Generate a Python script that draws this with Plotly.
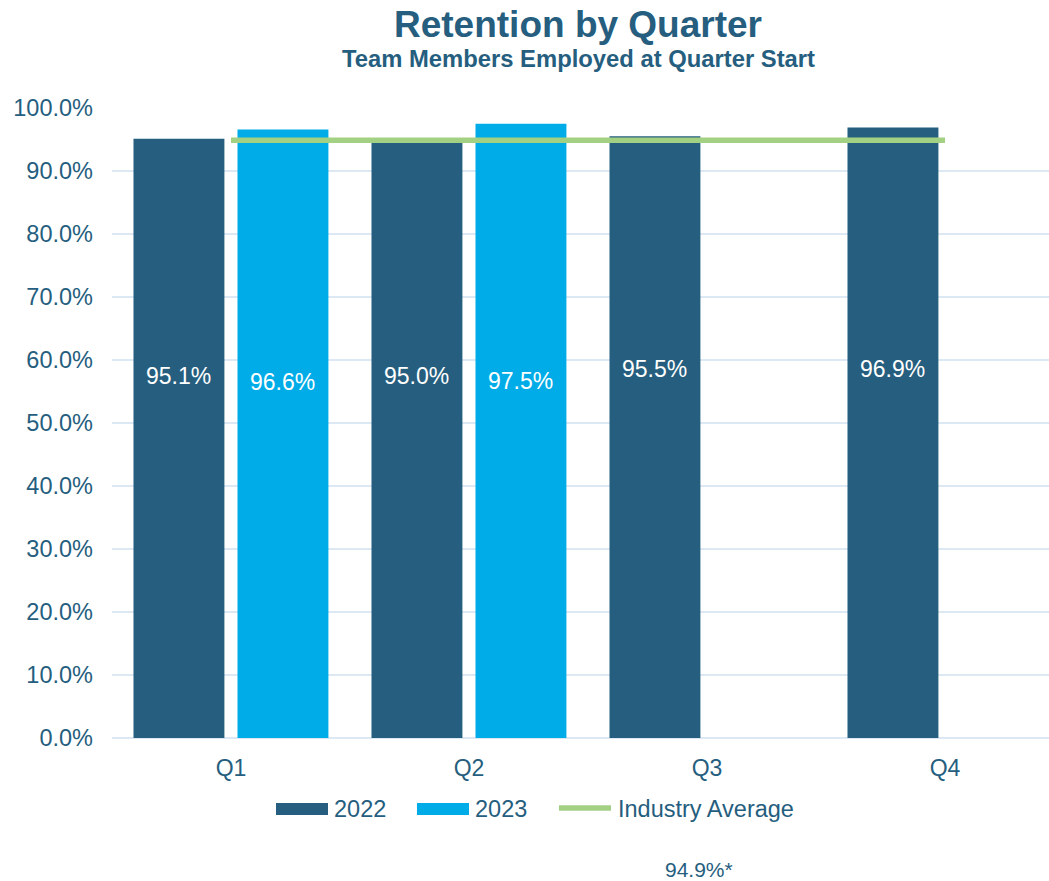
import plotly.graph_objects as go

# Retention data
quarters = ["Q1", "Q2", "Q3", "Q4"]
retention_2022 = [95.1, 95.0, 95.5, 96.9]
retention_2023 = [96.6, 97.5, None, None]
industry_average = 94.9
tick_values = [0, 10, 20, 30, 40, 50, 60, 70, 80, 90, 100]

# Styling
C_2022 = "#255E7E"
C_2023 = "#00ACE7"
C_AVG = "#A3D184"
C_TEXT = "#255E7E"
C_GRID = "#DCE8F4"
FONT = "Liberation Sans, Arial, sans-serif"

W, H = 1049, 881
M_L, M_R, M_T, M_B = 112, 0, 108, 143

# Bar geometry in category units
BAR_W = 0.382
OFF_2022 = -0.4097
OFF_2023 = 0.0273

# Heights (in % units) where the white value labels sit inside the bars
label_y_2022 = [57.5, 57.4, 58.6, 58.6]
label_y_2023 = [56.5, 56.7]

fig = go.Figure()

fig.add_trace(go.Bar(
    x=quarters, y=retention_2022, name="2022",
    width=BAR_W, offset=OFF_2022,
    marker=dict(color=C_2022, line=dict(width=0)),
    showlegend=False,
))
fig.add_trace(go.Bar(
    x=quarters, y=retention_2023, name="2023",
    width=BAR_W, offset=OFF_2023,
    marker=dict(color=C_2023, line=dict(width=0)),
    showlegend=False,
))
fig.add_trace(go.Scatter(
    x=quarters, y=[industry_average] * len(quarters), name="Industry Average",
    mode="lines", line=dict(color=C_AVG, width=5.5),
    showlegend=False,
))

# Value labels inside bars
label_font = dict(family=FONT, size=23, color="white")
for i, (v, ly) in enumerate(zip(retention_2022, label_y_2022)):
    fig.add_annotation(x=i + OFF_2022 + BAR_W / 2, y=ly, xref="x", yref="y",
                       text=f"{v:.1f}%", showarrow=False, font=label_font)
for i, (v, ly) in enumerate(zip(retention_2023, label_y_2023)):
    if v is None:
        continue
    fig.add_annotation(x=i + OFF_2023 + BAR_W / 2, y=ly, xref="x", yref="y",
                       text=f"{v:.1f}%", showarrow=False, font=label_font)


def paper_x(px):
    return (px - M_L) / (W - M_L - M_R)


def paper_y(py):
    return (H - M_B - py) / (H - M_B - M_T)


# Title and subtitle
fig.add_annotation(x=paper_x(578), y=paper_y(24), xref="paper", yref="paper",
                   text="<b>Retention by Quarter</b>", showarrow=False,
                   xanchor="center", yanchor="middle",
                   font=dict(family=FONT, size=37, color=C_TEXT))
fig.add_annotation(x=paper_x(578), y=paper_y(58), xref="paper", yref="paper",
                   text="<b>Team Members Employed at Quarter Start</b>", showarrow=False,
                   xanchor="center", yanchor="middle",
                   font=dict(family=FONT, size=23.8, color=C_TEXT))

# Legend with wide swatches
fig.add_shape(type="rect", xref="paper", yref="paper",
              x0=paper_x(276), x1=paper_x(328), y0=paper_y(815), y1=paper_y(803),
              fillcolor=C_2022, line=dict(width=0))
fig.add_shape(type="rect", xref="paper", yref="paper",
              x0=paper_x(417), x1=paper_x(469), y0=paper_y(815), y1=paper_y(803),
              fillcolor=C_2023, line=dict(width=0))
fig.add_shape(type="line", xref="paper", yref="paper",
              x0=paper_x(559), x1=paper_x(611), y0=paper_y(808), y1=paper_y(808),
              line=dict(color=C_AVG, width=5.5))
for x, txt in [(332, "2022"), (473, "2023"), (616, "Industry Average")]:
    fig.add_annotation(x=paper_x(x), y=paper_y(809), xref="paper", yref="paper",
                       text=txt, showarrow=False, xanchor="left", yanchor="middle",
                       font=dict(family=FONT, size=23.5, color=C_TEXT))

fig.add_annotation(x=paper_x(699), y=paper_y(869), xref="paper", yref="paper",
                   text=f"{industry_average:.1f}%*", showarrow=False,
                   xanchor="center", yanchor="middle",
                   font=dict(family=FONT, size=21, color=C_TEXT))

fig.update_layout(
    width=W, height=H,
    margin=dict(l=M_L, r=M_R, t=M_T, b=M_B),
    paper_bgcolor="white", plot_bgcolor="white",
    barmode="group",
    font=dict(family=FONT, color=C_TEXT),
    xaxis=dict(
        range=[-0.5, 3.437], showgrid=False, showline=False, ticks="",
        ticklabelstandoff=14,
        tickfont=dict(family=FONT, size=23, color=C_TEXT),
    ),
    yaxis=dict(
        range=[0, 100], tickvals=tick_values,
        ticktext=[f"{t:.1f}%" for t in tick_values],
        showgrid=True, gridcolor=C_GRID, gridwidth=2,
        zeroline=True, zerolinecolor=C_GRID, zerolinewidth=2,
        showline=False, ticks="", ticklabelstandoff=18,
        tickfont=dict(family=FONT, size=23.5, color=C_TEXT),
    ),
)

fig.write_html("out.html")
